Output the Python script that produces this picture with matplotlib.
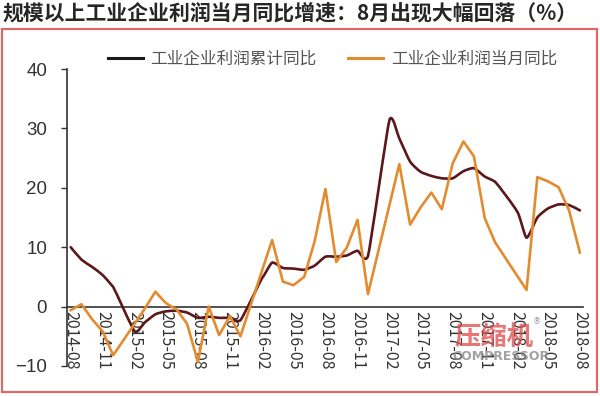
import datetime
import numpy as np
import matplotlib
matplotlib.use("Agg")
import matplotlib.pyplot as plt
import matplotlib.dates as mdates
from matplotlib.path import Path
from matplotlib.patches import PathPatch, Rectangle

plt.rcParams['font.family'] = ['Noto Sans CJK SC', 'DejaVu Sans']

# 工业企业利润累计同比 (%), 1-2月合并公布, 无1月
cum_dates = ["2014-08", "2014-09", "2014-10", "2014-11", "2014-12",
             "2015-02", "2015-03", "2015-04", "2015-05", "2015-06", "2015-07",
             "2015-08", "2015-09", "2015-10", "2015-11", "2015-12",
             "2016-02", "2016-03", "2016-04", "2016-05", "2016-06", "2016-07",
             "2016-08", "2016-09", "2016-10", "2016-11", "2016-12",
             "2017-02", "2017-03", "2017-04", "2017-05", "2017-06", "2017-07",
             "2017-08", "2017-09", "2017-10", "2017-11", "2017-12",
             "2018-02", "2018-03", "2018-04", "2018-05", "2018-06", "2018-07",
             "2018-08"]
cum_vals = [10.0, 7.9, 6.7, 5.3, 3.3,
            -4.2, -2.7, -1.3, -0.8, -0.7, -1.0,
            -1.9, -1.7, -1.9, -1.9, -2.3,
            4.8, 7.4, 6.5, 6.4, 6.2, 6.9,
            8.4, 8.4, 8.6, 9.4, 8.5,
            31.5, 28.3, 24.4, 22.7, 22.0, 21.6,
            21.6, 22.8, 23.3, 21.9, 21.0,
            16.1, 11.6, 15.0, 16.5, 17.2, 17.1,
            16.2]

# 工业企业利润当月同比 (%), 无1、2月
mon_dates = ["2014-08", "2014-09", "2014-10", "2014-11", "2014-12",
             "2015-03", "2015-04", "2015-05", "2015-06", "2015-07",
             "2015-08", "2015-09", "2015-10", "2015-11", "2015-12",
             "2016-03", "2016-04", "2016-05", "2016-06", "2016-07",
             "2016-08", "2016-09", "2016-10", "2016-11", "2016-12",
             "2017-03", "2017-04", "2017-05", "2017-06", "2017-07",
             "2017-08", "2017-09", "2017-10", "2017-11", "2017-12",
             "2018-03", "2018-04", "2018-05", "2018-06", "2018-07",
             "2018-08"]
mon_vals = [-0.6, 0.4, -2.1, -4.2, -8.2,
            -0.4, 2.5, 0.6, -0.5, -2.9,
            -9.3, 0.0, -4.8, -1.6, -5.0,
            11.2, 4.2, 3.6, 5.0, 11.0,
            19.8, 7.5, 9.9, 14.6, 2.1,
            24.0, 13.8, 16.7, 19.2, 16.4,
            24.1, 27.8, 25.3, 14.9, 10.8,
            2.8, 21.8, 21.1, 20.1, 16.2,
            9.1]

yticks = [-10, 0, 10, 20, 30, 40]
title = "规模以上工业企业利润当月同比增速：8月出现大幅回落（%）"
lab_cum = "工业企业利润累计同比"
lab_mon = "工业企业利润当月同比"

c_cum = "#5b1719"
c_mon = "#e38b2f"


def to_num(lst):
    return mdates.date2num([datetime.datetime.strptime(d, "%Y-%m") for d in lst])


def smooth_path(x, y, t=0.1):
    # smoothed line as cubic bezier (control points kept inside each segment)
    verts = [(x[0], y[0])]
    codes = [Path.MOVETO]
    n = len(x)
    for i in range(n - 1):
        xa, ya = (x[i - 1], y[i - 1]) if i > 0 else (x[i], y[i])
        xb, yb = (x[i + 2], y[i + 2]) if i < n - 2 else (x[i + 1], y[i + 1])
        dx = x[i + 1] - x[i]
        s1 = dx / max(x[i + 1] - xa, 1e-9)
        s2 = dx / max(xb - x[i], 1e-9)
        c1 = (x[i] + (x[i + 1] - xa) * t, y[i] + (y[i + 1] - ya) * t * min(1, 2 * s1))
        c2 = (x[i + 1] - (xb - x[i]) * t, y[i + 1] - (yb - y[i]) * t * min(1, 2 * s2))
        verts += [c1, c2, (x[i + 1], y[i + 1])]
        codes += [Path.CURVE4] * 3
    return Path(verts, codes)


xc = to_num(cum_dates)
xm = to_num(mon_dates)

fig = plt.figure(figsize=(6, 3.96), dpi=100)
ax = fig.add_axes([66.5 / 600, 30 / 396, (583 - 66.5) / 600, (366 - 69) / 396])

ax.add_patch(PathPatch(smooth_path(xc, np.array(cum_vals)), fill=False,
                       edgecolor=c_cum, lw=1.9, capstyle='round', joinstyle='round', zorder=3))
ax.plot(xm, mon_vals, color=c_mon, lw=1.9, zorder=4)

x0 = mdates.date2num(datetime.datetime(2014, 8, 1))
x1 = mdates.date2num(datetime.datetime(2018, 8, 1))
ax.set_xlim(x0 - 12, x1 + 9)
ax.set_ylim(-10, 40)

ticks = [datetime.datetime(2014 + (7 + 3 * k) // 12, (7 + 3 * k) % 12 + 1, 1) for k in range(17)]
ax.set_xticks(mdates.date2num(ticks))
ax.set_xticklabels([t.strftime("%Y-%m") for t in ticks])
ax.tick_params(axis='x', length=0, pad=3, labelsize=11.5, labelcolor="#333333",
               labelrotation=270)
for lab in ax.get_xticklabels():
    lab.set_family("Liberation Sans")
    lab.set_ha('center')
    lab.set_va('top')

ax.set_yticks(yticks)
ax.set_yticklabels([str(v).replace("-", "\u2212") for v in yticks])
ax.tick_params(axis='y', length=4, width=1, color="#333333", pad=10,
               labelsize=13.5, labelcolor="#333333")
for lab in ax.get_yticklabels():
    lab.set_family("Liberation Sans")

for s in ['top', 'right']:
    ax.spines[s].set_visible(False)
ax.spines['left'].set_color("#333333")
ax.spines['left'].set_linewidth(1.2)
ax.spines['bottom'].set_position(('data', 0))
ax.spines['bottom'].set_color("#333333")
ax.spines['bottom'].set_linewidth(1.2)

h1, = ax.plot([], [], color="#1a1a1a", lw=2.2)
h2, = ax.plot([], [], color=c_mon, lw=2.2)
fig.legend([h1, h2], [lab_cum, lab_mon], loc='center left',
           bbox_to_anchor=(108 / 600, 1 - 59 / 396), ncol=2, frameon=False,
           fontsize=12, handlelength=2.1, handletextpad=0.45, columnspacing=1.9,
           borderpad=0, borderaxespad=0, labelcolor="#555555")

fig.text(2 / 600, 1 - 13 / 396, title, fontsize=15, fontweight='bold',
         color="#262626", ha='left', va='center')

fig.patches.append(Rectangle((2 / 600, 1 - 392 / 396), 595 / 600, 363 / 396,
                             transform=fig.transFigure, fill=False,
                             edgecolor="#dc6a6a", lw=1.6))

# watermark
fig.text(494 / 600, 1 - 337 / 396, "压缩机", fontsize=19, fontweight='bold',
         color="#e04848", alpha=0.75, ha='center', va='center')
fig.text(501 / 600, 1 - 357 / 396, "COMPRESSOR", fontsize=9, fontweight='bold',
         color="#8a8a8a", alpha=0.8, ha='center', va='center', family="DejaVu Sans")
fig.text(537 / 600, 1 - 322 / 396, "®", fontsize=6, color="#999999",
         ha='center', va='center', family="DejaVu Sans")

fig.savefig("out.png", dpi=100)
